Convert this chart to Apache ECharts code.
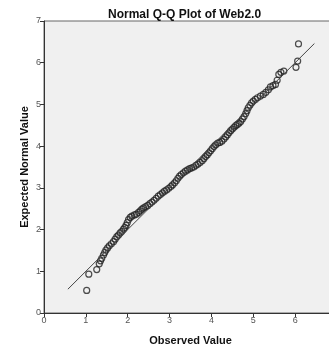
<!DOCTYPE html>
<html>
<head>
<meta charset="utf-8">
<script src="https://cdn.jsdelivr.net/npm/echarts@6/dist/echarts.min.js"></script>
<style>
  html, body {margin: 0; padding: 0; background: #fff;}
  #chart {width: 329px; height: 346px;}
</style>
</head>
<body>
<div id="chart"></div>
<script>
// values
const observed = [1.02, 1.07, 1.26, 1.32, 1.35, 1.38, 1.42, 1.45, 1.48, 1.52, 1.56, 1.61, 1.66, 1.70, 1.74, 1.78, 1.82, 1.86, 1.90, 1.93,
  1.96, 1.99, 2.02, 2.06, 2.10, 2.16, 2.21, 2.26, 2.30, 2.34, 2.38, 2.43, 2.48, 2.53, 2.58, 2.63, 2.68, 2.73, 2.78, 2.83,
  2.88, 2.93, 2.98, 3.03, 3.07, 3.12, 3.16, 3.20, 3.24, 3.28, 3.33, 3.38, 3.43, 3.48, 3.53, 3.58, 3.63, 3.68, 3.73, 3.78,
  3.82, 3.86, 3.90, 3.94, 3.98, 4.02, 4.06, 4.10, 4.15, 4.20, 4.25, 4.30, 4.34, 4.38, 4.42, 4.46, 4.50, 4.54, 4.58, 4.62,
  4.66, 4.70, 4.74, 4.78, 4.82, 4.85, 4.88, 4.92, 4.96, 5.00, 5.05, 5.10, 5.17, 5.24, 5.30, 5.36, 5.41, 5.47, 5.53, 5.57,
  5.61, 5.66, 5.73, 6.02, 6.06, 6.08];
const expected = [0.54, 0.93, 1.04, 1.18, 1.25, 1.31, 1.39, 1.45, 1.51, 1.56, 1.61, 1.66, 1.71, 1.77, 1.83, 1.87, 1.92, 1.96, 2.01, 2.05,
  2.10, 2.17, 2.24, 2.29, 2.32, 2.35, 2.37, 2.41, 2.45, 2.49, 2.52, 2.55, 2.58, 2.62, 2.66, 2.70, 2.75, 2.80, 2.84, 2.88,
  2.92, 2.95, 2.99, 3.03, 3.07, 3.12, 3.17, 3.23, 3.28, 3.32, 3.36, 3.40, 3.43, 3.46, 3.48, 3.50, 3.54, 3.57, 3.61, 3.65,
  3.70, 3.75, 3.79, 3.84, 3.89, 3.94, 3.99, 4.03, 4.07, 4.09, 4.12, 4.17, 4.22, 4.27, 4.32, 4.37, 4.41, 4.45, 4.49, 4.52,
  4.55, 4.59, 4.65, 4.71, 4.78, 4.85, 4.92, 4.98, 5.04, 5.08, 5.12, 5.16, 5.20, 5.24, 5.29, 5.35, 5.42, 5.45, 5.48, 5.58,
  5.72, 5.77, 5.80, 5.89, 6.04, 6.45];
const refX = [0.57, 6.46];
const refY = [0.57, 6.46];
const xTicks = [0, 1, 2, 3, 4, 5, 6];
const yTicks = [0, 1, 2, 3, 4, 5, 6, 7];

const font = "'Liberation Sans', Arial, sans-serif";
const points = observed.map((v, i) => [v, expected[i]]);
const line = refX.map((v, i) => [v, refY[i]]);

const chart = echarts.init(document.getElementById('chart'));
chart.setOption({
  animation: false,
  title: {
    text: 'Normal Q-Q Plot of Web2.0',
    left: 103, top: 4,
    textStyle: {fontFamily: font, fontSize: 12, fontWeight: 'bold', color: '#111'}
  },
  grid: {
    left: 44, top: 21, width: 293, height: 292,
    outerBoundsMode: 'none', containLabel: false,
    show: true, backgroundColor: '#f0f0f0', borderColor: '#666', borderWidth: 1
  },
  xAxis: {
    type: 'value', min: 0, max: 7, interval: 1,
    name: 'Observed Value', nameLocation: 'middle', nameGap: 22, nameMoveOverlap: false,
    nameTextStyle: {fontFamily: font, fontSize: 11, fontWeight: 'bold', color: '#111'},
    splitLine: {show: false},
    axisLine: {lineStyle: {color: '#333'}},
    axisTick: {show: true, length: 4, lineStyle: {color: '#333'}},
    axisLabel: {
      fontFamily: font, fontSize: 9, color: '#555', margin: 3,
      formatter: v => xTicks.includes(v) ? String(v) : ''
    }
  },
  yAxis: {
    type: 'value', min: 0, max: 7, interval: 1,
    name: 'Expected Normal Value', nameLocation: 'middle', nameGap: 14, nameMoveOverlap: false,
    nameTextStyle: {fontFamily: font, fontSize: 11, fontWeight: 'bold', color: '#111'},
    splitLine: {show: false},
    axisLine: {lineStyle: {color: '#333'}},
    axisTick: {show: true, length: 4, lineStyle: {color: '#333'}},
    axisLabel: {
      fontFamily: font, fontSize: 9, color: '#555', margin: 3,
      formatter: v => yTicks.includes(v) ? String(v) : ''
    }
  },
  series: [
    {
      type: 'line', data: line, symbol: 'none', silent: true,
      lineStyle: {color: '#444', width: 1}
    },
    {
      type: 'scatter', data: points, symbol: 'circle', symbolSize: 6,
      itemStyle: {color: 'rgba(0,0,0,0)', borderColor: '#222', borderWidth: 1.2}
    }
  ]
});
</script>
</body>
</html>
